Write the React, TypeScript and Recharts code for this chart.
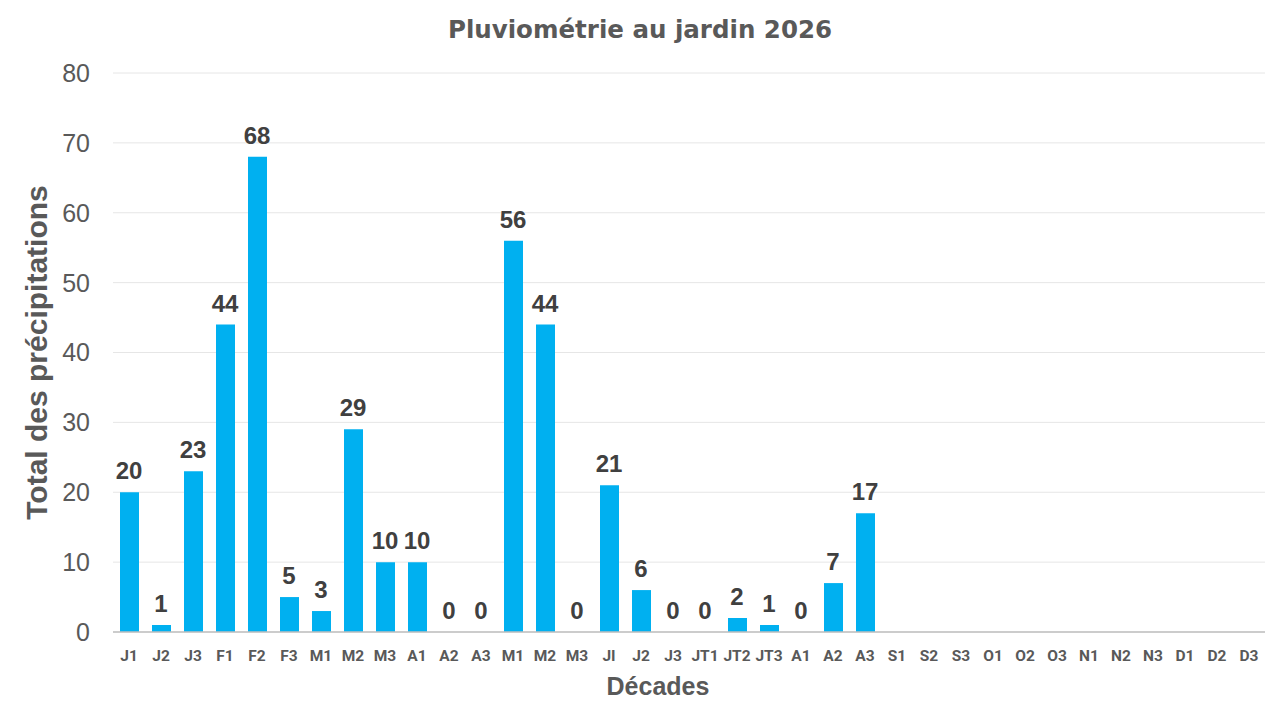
import React from "react";
import { ComposedChart, Bar, Line, XAxis, YAxis, CartesianGrid, LabelList, Label } from "recharts";

const decades = [
  "J1", "J2", "J3", "F1", "F2", "F3", "M1", "M2", "M3", "A1", "A2", "A3",
  "M1", "M2", "M3", "JI", "J2", "J3", "JT1", "JT2", "JT3", "A1", "A2", "A3",
  "S1", "S2", "S3", "O1", "O2", "O3", "N1", "N2", "N3", "D1", "D2", "D3",
];

// null = pas encore mesuré
const pluie = [
  20, 1, 23, 44, 68, 5, 3, 29, 10, 10, 0, 0,
  56, 44, 0, 21, 6, 0, 0, 2, 1, 0, 7, 17,
  null, null, null, null, null, null, null, null, null, null, null, null,
];

const yTicks = [0, 10, 20, 30, 40, 50, 60, 70, 80];

const data = decades.map((name, i) => ({ name, value: pluie[i] }));

const ARIAL = "'Liberation Sans', Arial, sans-serif";
const GREY = "#595959";

// labels drawn from an invisible line so that the zeros get one too
const renderValue = (props: any) => {
  const { x, y, value } = props;
  if (value === null || value === undefined) return null;
  return (
    <text
      x={x}
      y={y - 13}
      textAnchor="middle"
      fill="#404040"
      style={{ fontSize: 24, fontWeight: "bold", fontFamily: ARIAL }}>
      {value}
    </text>
  );
};

const App = () => {
  return (
    <div style={{ position: "absolute", left: 0, top: 0, width: 1280, height: 720, background: "#fff" }}>
      <div
        style={{
          position: "absolute",
          top: 18,
          left: 0,
          width: 1280,
          textAlign: "center",
          fontFamily: "'DejaVu Sans', sans-serif",
          fontWeight: "bold",
          fontSize: 24.5,
          lineHeight: 1,
          color: GREY,
        }}>
        Pluviométrie au jardin 2026
      </div>
      <ComposedChart
        width={1280}
        height={720}
        data={data}
        margin={{ top: 73, right: 15, left: 13, bottom: 58 }}>
        <CartesianGrid vertical={false} stroke="#E6E6E6" />
        <XAxis
          dataKey="name"
          height={30}
          tickSize={0}
          tickMargin={18}
          axisLine={{ stroke: "#BFBFBF", strokeWidth: 1.5 }}
          tick={{ fill: GREY, fontSize: 15.5, fontWeight: "bold", fontFamily: "Roboto, sans-serif" }}
          interval={0}>
          <Label
            value="Décades"
            position="insideBottom"
            offset={-33}
            dx={-31}
            style={{ fill: GREY, fontSize: 25, fontWeight: "bold", fontFamily: ARIAL }}
          />
        </XAxis>
        <YAxis
          width={100}
          domain={[0, 80]}
          ticks={yTicks}
          tickSize={0}
          tickMargin={23}
          axisLine={false}
          tick={{ fill: GREY, fontSize: 25, fontFamily: ARIAL }}>
          <Label
            value="Total des précipitations"
            angle={-90}
            position="insideLeft"
            offset={23}
            style={{
              textAnchor: "middle",
              fill: GREY,
              fontSize: 30,
              fontWeight: "bold",
              fontFamily: ARIAL,
            }}
          />
        </YAxis>
        <Bar dataKey="value" fill="#00B0F0" barSize={19} isAnimationActive={false} />
        <Line
          dataKey="value"
          stroke="none"
          dot={false}
          activeDot={false}
          legendType="none"
          isAnimationActive={false}>
          <LabelList dataKey="value" content={renderValue} />
        </Line>
      </ComposedChart>
    </div>
  );
};

export default App;
